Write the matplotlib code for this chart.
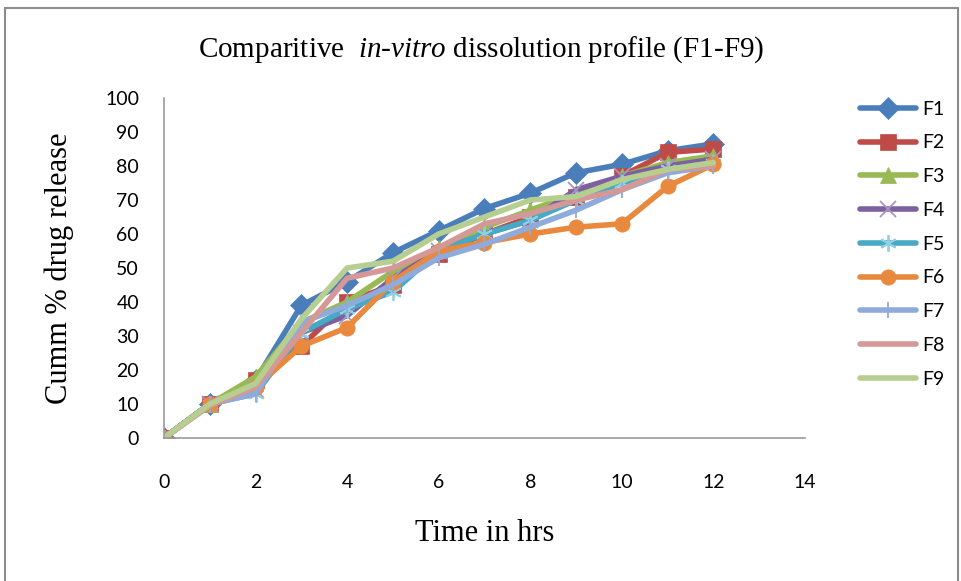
import matplotlib.pyplot as plt
from matplotlib.patches import Rectangle

plt.rcParams['mathtext.fontset'] = 'custom'
plt.rcParams['mathtext.rm'] = 'Liberation Serif'
plt.rcParams['mathtext.it'] = 'Liberation Serif:italic'

# data
time_hrs = [0, 1, 2, 3, 4, 5, 6, 7, 8, 9, 10, 11, 12]
f1 = [0, 10, 17, 39, 46, 54.5, 61, 67.5, 72, 78, 80.5, 84.5, 86.5]
f2 = [0, 10, 17, 27, 40, 45, 54, 60, 65, 71, 77, 84, 85]
f3 = [0, 10, 18, 34, 40, 49, 56, 62, 67, 72, 77, 81, 83]
f4 = [0, 10, 14, 31, 36, 47, 55, 60, 64, 73, 77, 80, 82]
f5 = [0, 10, 13, 31, 38, 43, 55, 60, 64, 70, 75, 79, 81]
f6 = [0, 10, 15, 27, 32.5, 46, 55, 57.5, 60, 62, 63, 74, 80.5]
f7 = [0, 10, 13, 34, 39, 45, 53, 57, 62, 67, 73, 78, 80]
f8 = [0, 9.5, 15, 31, 47, 50, 56, 63, 66, 70, 73, 79, 80]
f9 = [0, 10, 16, 35, 50, 52, 60, 65, 70, 71, 76, 79, 81]

names = ['F1', 'F2', 'F3', 'F4', 'F5', 'F6', 'F7', 'F8', 'F9']
series = [f1, f2, f3, f4, f5, f6, f7, f8, f9]

# style per series (colour, marker, marker colour)
styles = [
    ('#4A7EBB', 'D', '#4A7EBB'),
    ('#BE4B48', 's', '#BE4B48'),
    ('#98B954', '^', '#98B954'),
    ('#7D60A0', 'x', '#A895C4'),
    ('#46AAC5', (6, 2, 0), '#8FD0E2'),
    ('#E8893E', 'o', '#E8893E'),
    ('#8FABDB', '|', '#8FABDB'),
    ('#D69896', None, None),
    ('#B6CE8F', None, None),
]

fig = plt.figure(figsize=(9.62, 5.81), dpi=100)
ax = fig.add_axes([164 / 962, 1 - 438 / 581, (805 - 164) / 962, (438 - 98) / 581])

for name, vals, (col, mk, mcol) in zip(names, series, styles):
    kw = dict(color=col, lw=4.0, label=name, solid_capstyle='round',
              solid_joinstyle='round')
    if mk is not None:
        filled = mk in ('D', 's', 'o', '^')
        kw.update(marker=mk, ms=11 if filled else 12,
                  mfc=mcol, mec=mcol, mew=0.5 if filled else 1.3)
    ax.plot(time_hrs, vals, **kw)

ax.set_xlim(0, 14)
ax.set_ylim(0, 100)
ax.set_xticks(range(0, 15, 2))
ax.set_yticks(range(0, 101, 10))
for s in ('top', 'right'):
    ax.spines[s].set_visible(False)
for s in ('left', 'bottom'):
    ax.spines[s].set_color('#9A9A9A')
    ax.spines[s].set_linewidth(1.2)
ax.tick_params(axis='x', length=0, pad=26, labelsize=14)
ax.tick_params(axis='y', length=0, pad=18, labelsize=14)
for lab in ax.get_xticklabels() + ax.get_yticklabels():
    lab.set_family('Lato')

ax.set_xlabel('Time in hrs', family='Liberation Serif', fontsize=22, labelpad=20)
ax.set_ylabel('Cumm % drug release', family='Liberation Serif', fontsize=22, labelpad=22)

fig.text(0.5, 1 - 50 / 581, r'Comparitive  $\it{in}$-$\it{vitro}$ dissolution profile (F1-F9)',
         ha='center', va='center', family='Liberation Serif', fontsize=21)

leg = ax.legend(loc='upper left', bbox_to_anchor=(852 / 962, 1 - 93 / 581),
                bbox_transform=fig.transFigure, frameon=False,
                prop={'family': 'Lato', 'size': 14}, handlelength=2.9,
                labelspacing=0.86, handletextpad=0.3, borderaxespad=0)

fig.patches.append(Rectangle((5 / 962, -0.02), 953 / 962, 1 - 8 / 581 + 0.02,
                             transform=fig.transFigure, fill=False,
                             ec='#8C8C8C', lw=1.5))

fig.savefig('out.png', dpi=100)
